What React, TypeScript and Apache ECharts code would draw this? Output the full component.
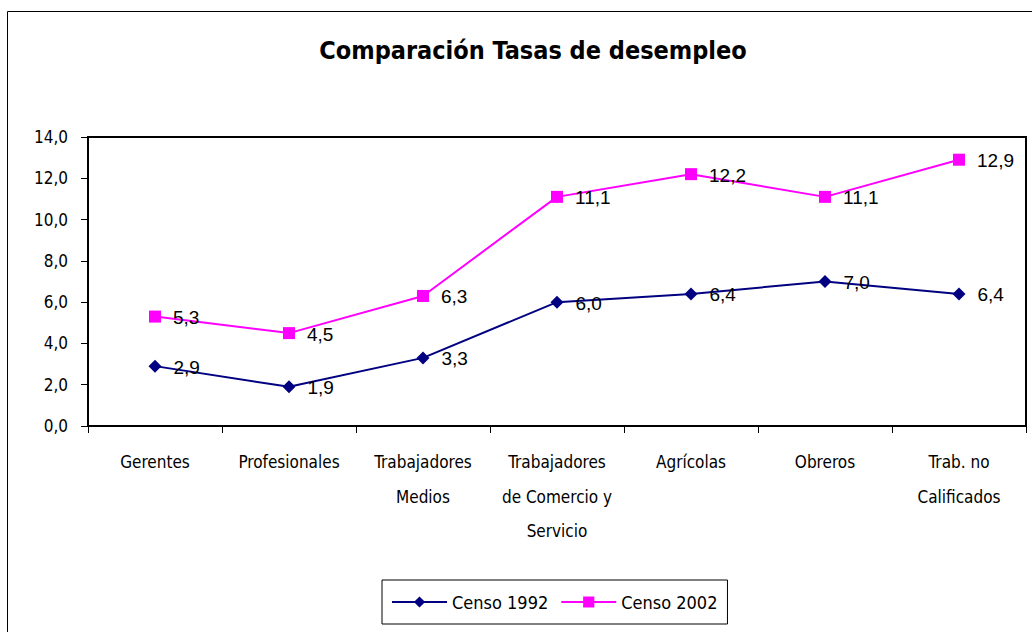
import React, { useEffect, useRef } from "react";
import * as echarts from "echarts";

const categories = [
  "Gerentes",
  "Profesionales",
  "Trabajadores\nMedios",
  "Trabajadores\nde Comercio y\nServicio",
  "Agrícolas",
  "Obreros",
  "Trab. no\nCalificados",
];
const censo1992 = [2.9, 1.9, 3.3, 6.0, 6.4, 7.0, 6.4];
const censo2002 = [5.3, 4.5, 6.3, 11.1, 12.2, 11.1, 12.9];
const titleText = "Comparación Tasas de desempleo";

const NARROW = "'Liberation Sans Narrow', 'DejaVu Sans Condensed', 'Arial Narrow', sans-serif";
const SANS = "'Liberation Sans', Arial, sans-serif";
const fmt = (v: number) => v.toFixed(1).replace(".", ",");

export default function App() {
  const ref = useRef<HTMLDivElement>(null);
  useEffect(() => {
    if (!ref.current) return;
    const chart = echarts.init(ref.current, undefined, { renderer: "svg" });
    const labelStyle = {
      show: true,
      position: "right",
      distance: 12,
      offset: [0, 1],
      fontFamily: SANS,
      fontSize: 19,
      color: "#000",
      formatter: (p: any) => fmt(p.value),
    };
    chart.setOption({
      animation: false,
      backgroundColor: "#fff",
      title: {
        text: titleText,
        left: 528,
        textAlign: "center",
        top: 33,
        textStyle: { fontFamily: NARROW, fontSize: 25, fontWeight: "bold", color: "#000" },
      },
      graphic: [
        {
          type: "rect",
          silent: true,
          shape: { x: 7.5, y: 11.5, width: 1040, height: 700 },
          style: { fill: "none", stroke: "#000", lineWidth: 1 },
        },
      ],
      grid: {
        left: 88,
        right: 6,
        top: 137,
        bottom: 206,
        show: true,
        borderColor: "#000",
        borderWidth: 2,
        backgroundColor: "transparent",
      },
      legend: {
        left: 382,
        top: 580,
        padding: [13, 10, 13, 9],
        borderColor: "#000",
        borderWidth: 1,
        itemWidth: 55,
        itemHeight: 14,
        itemGap: 12,
        textStyle: { fontFamily: NARROW, fontSize: 18, color: "#000" },
        data: ["Censo 1992", "Censo 2002"],
      },
      xAxis: {
        type: "category",
        data: categories,
        boundaryGap: true,
        axisLine: { show: true, lineStyle: { color: "#000", width: 2 } },
        axisTick: { show: true, interval: 0, length: 7, lineStyle: { color: "#000", width: 1 } },
        axisLabel: {
          interval: 0,
          margin: 19,
          fontFamily: NARROW,
          fontSize: 17,
          lineHeight: 34.5,
          color: "#000",
        },
        splitLine: { show: false },
      },
      yAxis: {
        type: "value",
        min: 0,
        max: 14,
        interval: 2,
        axisLine: { show: true, lineStyle: { color: "#000", width: 2 } },
        axisTick: { show: true, length: 7, lineStyle: { color: "#000", width: 1 } },
        axisLabel: {
          margin: 20,
          fontFamily: NARROW,
          fontSize: 17,
          color: "#000",
          formatter: (v: number) => fmt(v),
        },
        splitLine: { show: false },
      },
      series: [
        {
          name: "Censo 1992",
          type: "line",
          data: censo1992,
          color: "#000080",
          symbol: "diamond",
          symbolSize: 13,
          lineStyle: { width: 2, color: "#000080" },
          itemStyle: { color: "#000080" },
          label: labelStyle,
        },
        {
          name: "Censo 2002",
          type: "line",
          data: censo2002,
          color: "#FF00FF",
          symbol: "rect",
          symbolSize: 12,
          lineStyle: { width: 2, color: "#FF00FF" },
          itemStyle: { color: "#FF00FF" },
          label: labelStyle,
        },
      ],
    });
    return () => chart.dispose();
  }, []);
  return (
    <div
      ref={ref}
      style={{ position: "fixed", left: 0, top: 0, width: 1032, height: 632, overflow: "hidden" }}
    />
  );
}
